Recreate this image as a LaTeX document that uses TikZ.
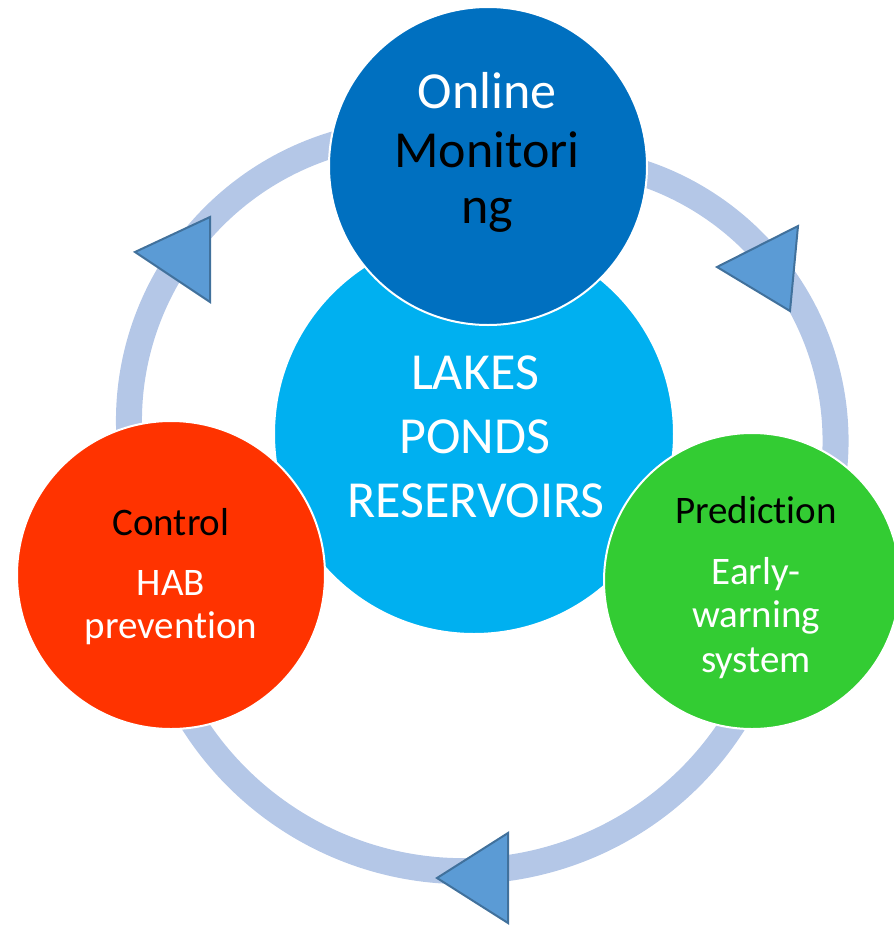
\documentclass[tikz,border=0pt]{standalone}
\usepackage{fontspec}
\setmainfont{Carlito}[Ligatures=NoCommon]
\definecolor{ringBlue}{HTML}{B4C7E7}
\definecolor{headBlue}{HTML}{5B9BD5}
\definecolor{headEdge}{HTML}{41719C}
\definecolor{lakeBlue}{HTML}{00B0F0}
\definecolor{monBlue}{HTML}{0070C0}
\definecolor{ctrlRed}{HTML}{FF3300}
\definecolor{predGreen}{HTML}{33CC33}

\begin{document}
\begin{tikzpicture}
[x=1pt,y=-1pt,
  ringDecorate/.style={draw=ringBlue,line width=26pt},
  headDecorate/.style={fill=headBlue,draw=headEdge,line width=2pt,line join=miter},
  nodeDecorate/.style={shape=circle,draw=white,line width=2pt,inner sep=0pt},
  bigText/.style={font=\fontsize{52}{58}\selectfont,anchor=base},
  smallText/.style={font=\fontsize{39}{44}\selectfont,anchor=base}]
\useasboundingbox (0,0) rectangle (894,927);
%% ring segments
\draw[ringDecorate] (418,421) ++(170:289) arc (170:258:289);
\draw[ringDecorate] (553,441) ++(282:282.5) arc (282:372:282.5);
\draw[ringDecorate] (463.5,550.7) ++(26:320.4) arc (26:154:320.4);
%% arrow heads
\draw[headDecorate] (135,252) -- (210,217) -- (210,302) -- cycle;
\draw[headDecorate] (717,267) -- (798,226) -- (790,311) -- cycle;
\draw[headDecorate] (437,878) -- (508,833) -- (508,923) -- cycle;
%% circles
\node[nodeDecorate,fill=lakeBlue,minimum size=400pt] (lakes) at (474,434) {};
\node[nodeDecorate,fill=monBlue,minimum size=318pt] (online) at (488,166) {};
\node[nodeDecorate,fill=ctrlRed,minimum size=308pt] (control) at (171,575) {};
\node[nodeDecorate,fill=predGreen,minimum size=296pt] (predict) at (752,581) {};
%% labels
\foreach \name/\x/\y/\col/\txt in {
  on1/487/108/white/Online, on2/487/167/black/Monitori, on3/487/223/black/ng,
  lk1/475/389/white/LAKES, lk2/475/453/white/PONDS, lk3/476/517/white/RESERVOIRS}
{
  \node[bigText,text=\col] (\name) at (\x,\y) {\txt};
}
\foreach \name/\x/\y/\col/\txt in {
  ct1/171/535/black/Control, ct2/171/595/white/HAB, ct3/171/638/white/prevention,
  pr1/756/523/black/Prediction, pr2/756/584/white/Early-, pr3/756/627/white/warning,
  pr4/756/672/white/system}
{
  \node[smallText,text=\col] (\name) at (\x,\y) {\txt};
}
\end{tikzpicture}
\end{document}
